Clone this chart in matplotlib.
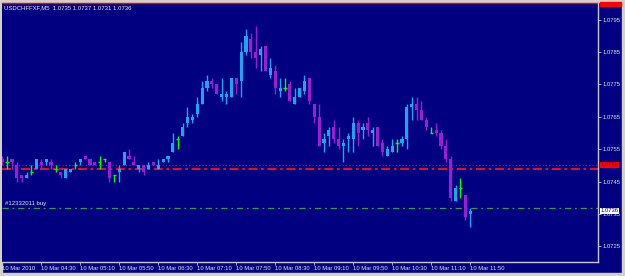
import numpy as np
import pandas as pd
import matplotlib
matplotlib.use("Agg")
import matplotlib.pyplot as plt
from matplotlib.patches import Rectangle
import matplotlib.transforms as mtransforms

# ---------------------------
# 1. CANDLE DATA  (USDCHFFXF, M5, 10 Mar 2010 03:50 -> 11:50)
# ---------------------------
opens = [1.0752, 1.0751, 1.0752, 1.0750, 1.0747, 1.0746, 1.0748, 1.0749, 1.0751, 1.0751,
         1.0751, 1.0749, 1.0748, 1.0746, 1.0748, 1.0750, 1.0751, 1.0753, 1.0752, 1.0751,
         1.0751, 1.0752, 1.0751, 1.0747, 1.0748, 1.0750, 1.0753, 1.0751, 1.0749, 1.0750,
         1.0749, 1.0751, 1.0749, 1.0751, 1.0752, 1.0754, 1.0758, 1.0759, 1.0763, 1.0764,
         1.0766, 1.0769, 1.0774, 1.0776, 1.0775, 1.0771, 1.0771, 1.0771, 1.0777, 1.0776,
         1.0785, 1.0789, 1.0785, 1.0784, 1.0787, 1.0778, 1.0779, 1.0773, 1.0774, 1.0775,
         1.0769, 1.0771, 1.0773, 1.0777, 1.0769, 1.0765, 1.0757, 1.0759, 1.0762, 1.0758,
         1.0756, 1.0758, 1.0758, 1.0763, 1.0761, 1.0763, 1.0760, 1.0762, 1.0757, 1.0753,
         1.0754, 1.0757, 1.0757, 1.0758, 1.0768, 1.0769, 1.0767, 1.0764, 1.0760, 1.0761,
         1.0760, 1.0756, 1.0752, 1.0739, 1.0743, 1.0741, 1.0735]
highs = [1.0753, 1.0753, 1.0752, 1.0751, 1.0747, 1.0748, 1.0750, 1.0752, 1.0752, 1.0752,
         1.0752, 1.0750, 1.0748, 1.0749, 1.0749, 1.0751, 1.0752, 1.0753, 1.0752, 1.0751,
         1.0753, 1.0752, 1.0751, 1.0747, 1.0750, 1.0754, 1.0755, 1.0753, 1.0750, 1.0750,
         1.0751, 1.0751, 1.0752, 1.0752, 1.0753, 1.0760, 1.0759, 1.0763, 1.0768, 1.0766,
         1.0771, 1.0776, 1.0778, 1.0777, 1.0775, 1.0777, 1.0773, 1.0777, 1.0777, 1.0788,
         1.0792, 1.0791, 1.0793, 1.0787, 1.0787, 1.0783, 1.0781, 1.0777, 1.0777, 1.0776,
         1.0774, 1.0774, 1.0778, 1.0777, 1.0769, 1.0769, 1.0760, 1.0762, 1.0764, 1.0762,
         1.0758, 1.0760, 1.0765, 1.0764, 1.0763, 1.0765, 1.0762, 1.0762, 1.0758, 1.0756,
         1.0758, 1.0758, 1.0759, 1.0769, 1.0771, 1.0771, 1.0770, 1.0765, 1.0762, 1.0763,
         1.0761, 1.0758, 1.0753, 1.0744, 1.0746, 1.0741, 1.0737]
lows = [1.0750, 1.0749, 1.0749, 1.0745, 1.0745, 1.0746, 1.0747, 1.0749, 1.0749, 1.0750,
        1.0749, 1.0748, 1.0746, 1.0746, 1.0748, 1.0749, 1.0750, 1.0752, 1.0750, 1.0750,
        1.0749, 1.0751, 1.0745, 1.0745, 1.0745, 1.0750, 1.0752, 1.0750, 1.0748, 1.0747,
        1.0749, 1.0750, 1.0749, 1.0751, 1.0751, 1.0754, 1.0755, 1.0759, 1.0762, 1.0763,
        1.0765, 1.0769, 1.0773, 1.0774, 1.0772, 1.0770, 1.0769, 1.0771, 1.0772, 1.0771,
        1.0784, 1.0783, 1.0780, 1.0779, 1.0779, 1.0777, 1.0772, 1.0771, 1.0773, 1.0770,
        1.0769, 1.0771, 1.0772, 1.0769, 1.0763, 1.0756, 1.0754, 1.0756, 1.0757, 1.0755,
        1.0751, 1.0754, 1.0754, 1.0756, 1.0758, 1.0759, 1.0756, 1.0756, 1.0753, 1.0753,
        1.0754, 1.0754, 1.0756, 1.0755, 1.0764, 1.0764, 1.0764, 1.0761, 1.0760, 1.0759,
        1.0755, 1.0751, 1.0739, 1.0739, 1.0740, 1.0733, 1.0731]
closes = [1.0751, 1.0751, 1.0751, 1.0746, 1.0746, 1.0747, 1.0748, 1.0752, 1.0750, 1.0752,
          1.0750, 1.0749, 1.0747, 1.0749, 1.0749, 1.0750, 1.0752, 1.0752, 1.0750, 1.0750,
          1.0751, 1.0752, 1.0746, 1.0747, 1.0749, 1.0754, 1.0752, 1.0750, 1.0750, 1.0748,
          1.0750, 1.0750, 1.0750, 1.0752, 1.0753, 1.0757, 1.0758, 1.0762, 1.0765, 1.0765,
          1.0769, 1.0774, 1.0776, 1.0775, 1.0772, 1.0772, 1.0772, 1.0777, 1.0775, 1.0785,
          1.0790, 1.0785, 1.0783, 1.0786, 1.0779, 1.0780, 1.0774, 1.0774, 1.0774, 1.0770,
          1.0771, 1.0774, 1.0776, 1.0770, 1.0765, 1.0756, 1.0758, 1.0761, 1.0758, 1.0756,
          1.0757, 1.0759, 1.0763, 1.0760, 1.0762, 1.0761, 1.0761, 1.0756, 1.0754, 1.0755,
          1.0756, 1.0757, 1.0758, 1.0768, 1.0769, 1.0767, 1.0764, 1.0762, 1.0760, 1.0760,
          1.0756, 1.0752, 1.0740, 1.0743, 1.0743, 1.0734, 1.0736]

times = pd.date_range("2010-03-10 03:50", periods=len(opens), freq="5min")

# time scale labels (every 8th bar)
time_labels = ["10 Mar 2010", "10 Mar 04:30", "10 Mar 05:10", "10 Mar 05:50", "10 Mar 06:30",
               "10 Mar 07:10", "10 Mar 07:50", "10 Mar 08:30", "10 Mar 09:10", "10 Mar 09:50",
               "10 Mar 10:30", "10 Mar 11:10", "10 Mar 11:50"]
price_ticks = [1.0725, 1.0735, 1.0745, 1.0755, 1.0765, 1.0775, 1.0785, 1.0795]

# horizontal levels
tp_level = 1.0800
ask_level = 1.0750
sl_level = 1.0749
order_level = 1.0737
bid_level = 1.0736
title_text = "USDCHFFXF,M5  1.0735 1.0737 1.0731 1.0736"
order_text = "#12332011 buy"

# ---------------------------
# 2. COLORS
# ---------------------------
bg = "#000080"
bull_col = "#1AA6F2"
bear_col = "#9B1FD1"
doji_col = "#00FF00"
txt_col = "#E6E6E6"
frame_col = "#C8C8C8"
border_col = "#D4D0C8"

plt.rcParams['font.family'] = ['Liberation Sans', 'DejaVu Sans']

W, H = 625, 276
fig = plt.figure(figsize=(W / 100, H / 100), dpi=100, facecolor=bg)

# window border strips (left, right, bottom, top)
fig.add_artist(Rectangle((0, 0), 2 / W, 1, transform=fig.transFigure, color=border_col, zorder=0))
fig.add_artist(Rectangle((622 / W, 0), 3 / W, 1, transform=fig.transFigure, color=border_col, zorder=0))
fig.add_artist(Rectangle((0, 0), 1, 3 / H, transform=fig.transFigure, color=border_col, zorder=0))
fig.add_artist(Rectangle((0, 1 - 1.5 / H), 1, 1.5 / H, transform=fig.transFigure, color=border_col, zorder=0))

ax = fig.add_axes([2 / W, 14 / H, 596 / W, 259 / H])
ax.set_facecolor(bg)

# ---------------------------
# 3. CANDLES
# ---------------------------
o = np.array(opens)
h = np.array(highs)
l = np.array(lows)
c = np.array(closes)
x = np.arange(len(o))

bull = c > o
bear = c < o
doji = c == o

ax.vlines(x[bull], l[bull], h[bull], color=bull_col, lw=1, zorder=3)
ax.vlines(x[bear], l[bear], h[bear], color=bear_col, lw=1, zorder=3)
ax.vlines(x[doji], l[doji], h[doji], color=doji_col, lw=1, zorder=3)

ax.bar(x[bull], (c - o)[bull], bottom=o[bull], width=0.64, color=bull_col, zorder=4)
ax.bar(x[bear], (o - c)[bear], bottom=c[bear], width=0.64, color=bear_col, zorder=4)
ax.hlines(o[doji], x[doji] - 0.35, x[doji] + 0.35, color=doji_col, lw=1, zorder=4)

# ---------------------------
# 4. LEVEL LINES
# ---------------------------
ax.axhline(tp_level, color="#FF0000", lw=1.0, zorder=2, clip_on=False)
ax.axhline(ask_level, color="#FF0000", lw=0.8, ls=(0, (1, 2)), zorder=2)
ax.axhline(sl_level, color="#FF1010", lw=1.3, ls=(0, (5, 2, 1.5, 2)), zorder=2)
ax.axhline(order_level, color="#2E9E4E", lw=0.9, ls=(0, (5, 3, 1.5, 3)), zorder=2)

blend = mtransforms.blended_transform_factory(ax.transAxes, ax.transData)
ax.text(0.005, order_level + 0.00006, order_text, transform=blend, color=txt_col,
        fontsize=4.3, va='bottom', ha='left')

# right price labels
ax.text(1.004, ask_level + 0.00002, "%.4f" % ask_level, transform=blend, color="#A00000",
        fontsize=4.2, va='center', ha='left', clip_on=False,
        bbox=dict(facecolor="#FF0000", edgecolor='none', pad=0.3), zorder=6)
ax.text(1.004, bid_level, "%.4f" % bid_level, transform=blend, color=bg, fontsize=4.2,
        va='center', ha='left', clip_on=False,
        bbox=dict(facecolor="#FFFFFF", edgecolor='none', pad=0.3), zorder=6)
fig.add_artist(Rectangle((600 / W, 1 - 5.5 / H), 21 / W, 3 / H, transform=fig.transFigure,
                         color="#FF0000", zorder=5))

# ---------------------------
# 5. AXES / SCALES
# ---------------------------
ax.set_xlim(-0.05, 596 / 4.875 - 0.05)
ax.set_ylim(1.0735 - 48 / 32400, 1.0735 + 211 / 32400)

ax.yaxis.tick_right()
ax.set_yticks(price_ticks)
ax.set_yticklabels(["%.4f" % p for p in price_ticks])
ax.tick_params(axis='y', colors=frame_col, labelcolor=txt_col, length=2, width=0.6,
               labelsize=4.2, pad=1)

ax.set_xticks(x[::8])
ax.set_xticklabels(time_labels)
ax.tick_params(axis='x', colors=frame_col, labelcolor=txt_col, length=2.5, width=0.6,
               labelsize=4.2, pad=0.5)
for lbl in ax.get_xticklabels():
    lbl.set_horizontalalignment('left')

for side in ['top', 'left']:
    ax.spines[side].set_visible(False)
for side in ['right', 'bottom']:
    ax.spines[side].set_color(frame_col)
    ax.spines[side].set_linewidth(1)

fig.text(4 / W, 1 - 8 / H, title_text, color=txt_col, fontsize=4.3, va='center', ha='left')

fig.savefig("out.png", dpi=100, facecolor=fig.get_facecolor())
